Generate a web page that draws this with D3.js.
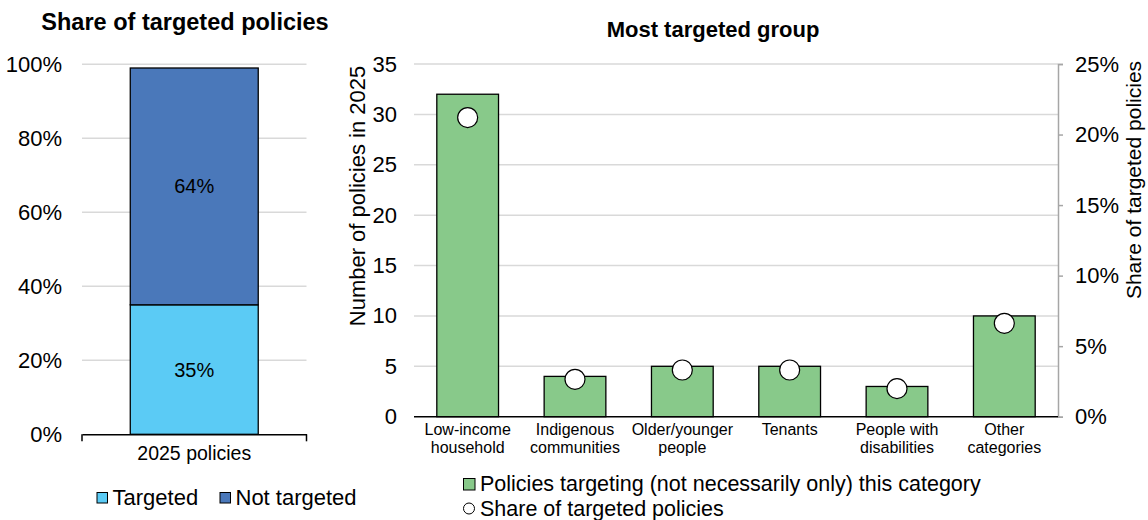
<!DOCTYPE html>
<html>
<head>
<meta charset="utf-8">
<script src="https://cdn.jsdelivr.net/npm/d3@7"></script>
<style>
  html, body { margin: 0; padding: 0; background: #fff; }
  svg { display: block; font-family: "Liberation Sans", Arial, sans-serif; }
</style>
</head>
<body>
<svg id="chart" width="1148" height="520"></svg>
<script>
// ---------- Data ----------
const leftCategories = ["2025 policies"];
const leftSeriesNames = ["Targeted", "Not targeted"];
const leftTargeted = [0.35];
const leftNotTargeted = [0.64];
const leftTicks = [0, 0.2, 0.4, 0.6, 0.8, 1.0];

const rightCategories = [
  ["Low-income", "household"],
  ["Indigenous", "communities"],
  ["Older/younger", "people"],
  ["Tenants"],
  ["People with", "disabilities"],
  ["Other", "categories"]
];
const policyCounts = [32, 4, 5, 5, 3, 10];
const targetedShare = [0.212, 0.0265, 0.0331, 0.0331, 0.0199, 0.0662];
const rightLeftTicks = [0, 5, 10, 15, 20, 25, 30, 35];
const rightRightTicks = [0, 0.05, 0.10, 0.15, 0.20, 0.25];

const titles = ["Share of targeted policies", "Most targeted group"];
const axisTitles = ["Number of policies in 2025", "Share of targeted policies"];
const rightLegend = ["Policies targeting (not necessarily only) this category", "Share of targeted policies"];

// ---------- Styles ----------
const colLight = "#5BCBF5", colDark = "#4A78BA", colGreen = "#88C98A";
const gridCol = "#D9D9D9", rAxisCol = "#A6A6A6";
const FS = 22;
const svg = d3.select("#chart");
const fmtPct = d3.format(".0%");

// ---------- Left panel ----------
const L = { x0: 82, x1: 306.5, y0: 434.3, y1: 64.3 };
const lx = d3.scaleBand().domain(leftCategories).range([L.x0, L.x1]).paddingInner(0.43).paddingOuter(0.215);
const ly = d3.scaleLinear().domain([0, 1]).range([L.y0, L.y1]);

svg.append("text").attr("x", 185).attr("y", 30).attr("text-anchor", "middle")
  .attr("font-size", 23.5).attr("font-weight", "bold").text(titles[0]);

// gridlines
svg.append("g").selectAll("line").data(leftTicks.filter(d => d > 0)).join("line")
  .attr("x1", L.x0).attr("x2", L.x1).attr("y1", d => ly(d)).attr("y2", d => ly(d))
  .attr("stroke", gridCol).attr("stroke-width", 1.5);

// y axis labels
const lyAxis = svg.append("g").attr("transform", `translate(${L.x0},0)`)
  .call(d3.axisLeft(ly).tickValues(leftTicks).tickFormat(fmtPct).tickSize(0).tickPadding(20));
lyAxis.select(".domain").remove();
lyAxis.selectAll("text").attr("font-size", FS).attr("fill", "#000")
  .attr("font-family", "Liberation Sans, Arial, sans-serif");

// stacked bars
const stackData = leftCategories.map((c, i) => ({ cat: c, Targeted: leftTargeted[i], "Not targeted": leftNotTargeted[i] }));
const stack = d3.stack().keys(leftSeriesNames)(stackData);
const lColors = [colLight, colDark];
stack.forEach((s, si) => {
  svg.append("g").selectAll("rect").data(s).join("rect")
    .attr("x", d => lx(d.data.cat)).attr("width", lx.bandwidth())
    .attr("y", d => ly(d[1])).attr("height", d => ly(d[0]) - ly(d[1]))
    .attr("fill", lColors[si]).attr("stroke", "#000").attr("stroke-width", 1.3);
  svg.append("g").selectAll("text").data(s).join("text")
    .attr("x", d => lx(d.data.cat) + lx.bandwidth() / 2)
    .attr("y", d => (ly(d[0]) + ly(d[1])) / 2 + 7)
    .attr("text-anchor", "middle").attr("font-size", 20)
    .text(d => fmtPct(d[1] - d[0]));
});

// x axis
const lxAxis = svg.append("g").attr("transform", `translate(0,${L.y0})`)
  .call(d3.axisBottom(lx).tickSize(0).tickPadding(12));
lxAxis.select(".domain").attr("stroke", "#000").attr("stroke-width", 1.5);
lxAxis.selectAll("text").attr("font-size", 19.5).attr("fill", "#000").attr("dy", "0.71em")
  .attr("font-family", "Liberation Sans, Arial, sans-serif");
svg.append("line").attr("x1", L.x0).attr("x2", L.x0).attr("y1", L.y0).attr("y2", L.y0 + 7).attr("stroke", "#000").attr("stroke-width", 1.5);
svg.append("line").attr("x1", L.x1).attr("x2", L.x1).attr("y1", L.y0).attr("y2", L.y0 + 7).attr("stroke", "#000").attr("stroke-width", 1.5);

// left legend
const legL = svg.append("g");
const legLx = [97, 220];
leftSeriesNames.forEach((n, i) => {
  legL.append("rect").attr("x", legLx[i]).attr("y", 492.5).attr("width", 10.5).attr("height", 10.5)
    .attr("fill", lColors[i]).attr("stroke", "#000").attr("stroke-width", 1);
  legL.append("text").attr("x", legLx[i] + 15.5).attr("y", 505).attr("font-size", FS).text(n);
});

// ---------- Right panel ----------
const R = { x0: 414, x1: 1058, y0: 416.7, y1: 64 };
const rx = d3.scaleBand().domain(d3.range(rightCategories.length)).range([R.x0, R.x1]).paddingInner(0.425).paddingOuter(0.2125);
const ryL = d3.scaleLinear().domain([0, 35]).range([R.y0, R.y1]);
const ryR = d3.scaleLinear().domain([0, 0.25]).range([R.y0, R.y1]);

svg.append("text").attr("x", 713).attr("y", 37).attr("text-anchor", "middle")
  .attr("font-size", 22).attr("font-weight", "bold").text(titles[1]);

svg.append("g").selectAll("line").data(rightLeftTicks.filter(d => d > 0)).join("line")
  .attr("x1", R.x0).attr("x2", R.x1).attr("y1", d => ryL(d)).attr("y2", d => ryL(d))
  .attr("stroke", gridCol).attr("stroke-width", 1.5);

const rlAxis = svg.append("g").attr("transform", `translate(${R.x0},0)`)
  .call(d3.axisLeft(ryL).tickValues(rightLeftTicks).tickSize(0).tickPadding(17));
rlAxis.select(".domain").remove();
rlAxis.selectAll("text").attr("font-size", FS).attr("fill", "#000")
  .attr("font-family", "Liberation Sans, Arial, sans-serif");

const rrAxis = svg.append("g").attr("transform", `translate(${R.x1},0)`)
  .call(d3.axisRight(ryR).tickValues(rightRightTicks).tickFormat(fmtPct).tickSize(5).tickPadding(12));
rrAxis.select(".domain").attr("stroke", rAxisCol).attr("stroke-width", 1.5);
rrAxis.selectAll("line").attr("stroke", rAxisCol).attr("stroke-width", 1.5);
rrAxis.selectAll("text").attr("font-size", FS).attr("fill", "#000")
  .attr("font-family", "Liberation Sans, Arial, sans-serif");

// bars
svg.append("g").selectAll("rect").data(policyCounts).join("rect")
  .attr("x", (d, i) => rx(i)).attr("width", rx.bandwidth())
  .attr("y", d => ryL(d)).attr("height", d => R.y0 - ryL(d))
  .attr("fill", colGreen).attr("stroke", "#000").attr("stroke-width", 1.3);

// x axis line
svg.append("line").attr("x1", R.x0).attr("x2", R.x1).attr("y1", R.y0).attr("y2", R.y0)
  .attr("stroke", "#000").attr("stroke-width", 1.5);

// dots
svg.append("g").selectAll("circle").data(targetedShare).join("circle")
  .attr("cx", (d, i) => rx(i) + rx.bandwidth() / 2).attr("cy", d => ryR(d)).attr("r", 10)
  .attr("fill", "#fff").attr("stroke", "#000").attr("stroke-width", 1.2);

// category labels
const catG = svg.append("g");
rightCategories.forEach((lines, i) => {
  const t = catG.append("text").attr("text-anchor", "middle").attr("font-size", 16);
  lines.forEach((ln, j) => {
    t.append("tspan").attr("x", rx(i) + rx.bandwidth() / 2).attr("y", 435 + j * 18.3).text(ln);
  });
});

// axis titles
svg.append("text").attr("transform", "translate(365,196) rotate(-90)").attr("text-anchor", "middle")
  .attr("font-size", 22).text(axisTitles[0]);
svg.append("text").attr("transform", "translate(1141,180) rotate(-90)").attr("text-anchor", "middle")
  .attr("font-size", 21).text(axisTitles[1]);

// right legend
svg.append("rect").attr("x", 463.5).attr("y", 478.5).attr("width", 11.5).attr("height", 11.5)
  .attr("fill", colGreen).attr("stroke", "#000").attr("stroke-width", 1);
svg.append("text").attr("x", 480).attr("y", 491).attr("font-size", 21.5).text(rightLegend[0]);
svg.append("circle").attr("cx", 469).attr("cy", 508.5).attr("r", 5.5)
  .attr("fill", "#fff").attr("stroke", "#000").attr("stroke-width", 1);
svg.append("text").attr("x", 480).attr("y", 515.5).attr("font-size", 21.5).text(rightLegend[1]);
</script>
</body>
</html>
